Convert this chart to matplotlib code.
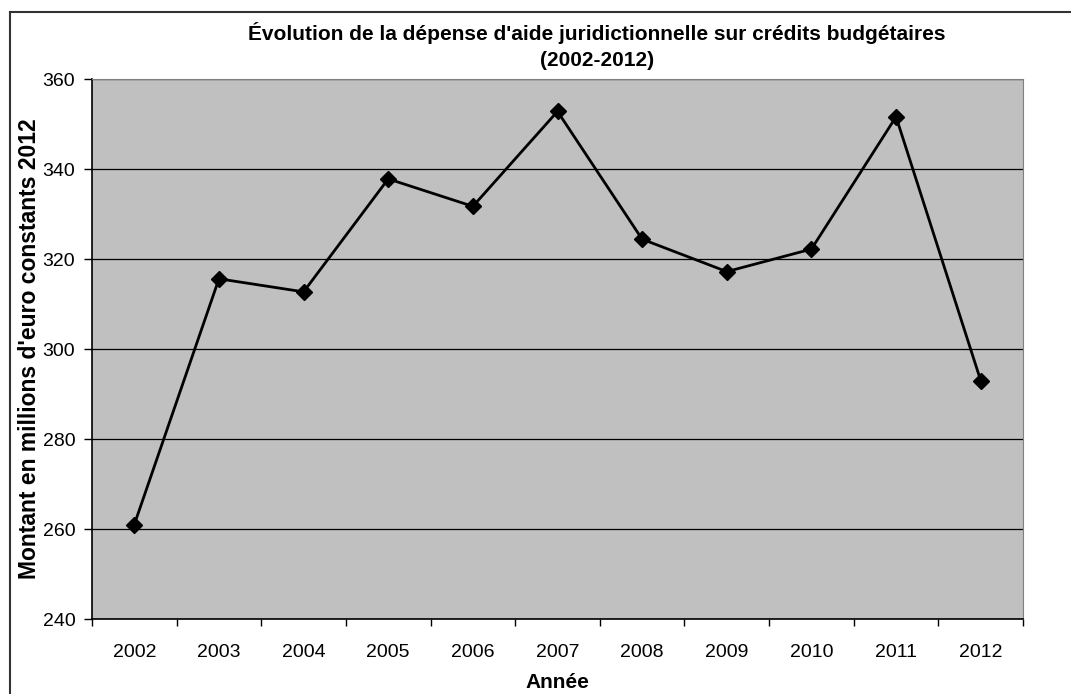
import matplotlib
matplotlib.use("Agg")
import matplotlib.pyplot as plt
import numpy as np

plt.rcParams["font.family"] = ["Liberation Sans", "DejaVu Sans"]

# Dépense d'aide juridictionnelle, millions d'euro constants 2012
years = ["2002", "2003", "2004", "2005", "2006", "2007",
         "2008", "2009", "2010", "2011", "2012"]
montants = [261.0, 315.6, 312.7, 337.8, 331.7, 352.8,
            324.4, 317.2, 322.2, 351.6, 293.0]

W, H = 1071, 694
fig = plt.figure(figsize=(W / 100, H / 100), dpi=100)

# plot area in pixels: left 92, right 1023, top 79, bottom 619
ax = fig.add_axes([92 / W, 1 - 619 / H, (1023 - 92) / W, (619 - 79) / H])
ax.set_facecolor("#c0c0c0")

x = np.arange(len(years))
ax.plot(x, montants, color="black", linewidth=2.0, marker="D",
        markersize=8.5, zorder=3)

ax.set_xlim(-0.5, len(years) - 0.5)
ax.set_ylim(240, 360)
ax.set_yticks(np.arange(240, 361, 20))
ax.yaxis.grid(True, color="black", linewidth=0.9)
ax.set_axisbelow(True)

# category labels centred, tick marks between categories
ax.set_xticks(x)
ax.set_xticklabels(years)
ax.set_xticks(np.arange(-0.5, len(years), 1), minor=True)
ax.tick_params(axis="x", which="major", length=0, pad=18, labelsize=14)
ax.tick_params(axis="x", which="minor", length=5, width=1, color="black")
ax.tick_params(axis="y", length=6, width=1, pad=6, labelsize=14)

for side in ["top", "right"]:
    ax.spines[side].set_color("#808080")
for side in ["left", "bottom"]:
    ax.spines[side].set_color("black")
    ax.spines[side].set_linewidth(1.2)

ax.set_xlabel("Année", fontsize=15, fontweight="bold", labelpad=9)
ax.set_ylabel("Montant en millions d'euro constants 2012", fontsize=16.5,
              fontweight="bold", labelpad=1)

fig.text(597 / W, 1 - 33 / H,
         "Évolution de la dépense d'aide juridictionnelle sur crédits budgétaires",
         ha="center", va="center", fontsize=15, fontweight="bold")
fig.text(597 / W, 1 - 60 / H, "(2002-2012)",
         ha="center", va="center", fontsize=15, fontweight="bold")

# outer chart frame (only top and left edges visible)
fig.add_artist(plt.Line2D([10 / W, 1.0], [1 - 12 / H, 1 - 12 / H],
                          transform=fig.transFigure, color="#333333", linewidth=1.5))
fig.add_artist(plt.Line2D([10 / W, 10 / W], [0.0, 1 - 12 / H],
                          transform=fig.transFigure, color="#333333", linewidth=1.5))

fig.savefig("out.png", dpi=100)
